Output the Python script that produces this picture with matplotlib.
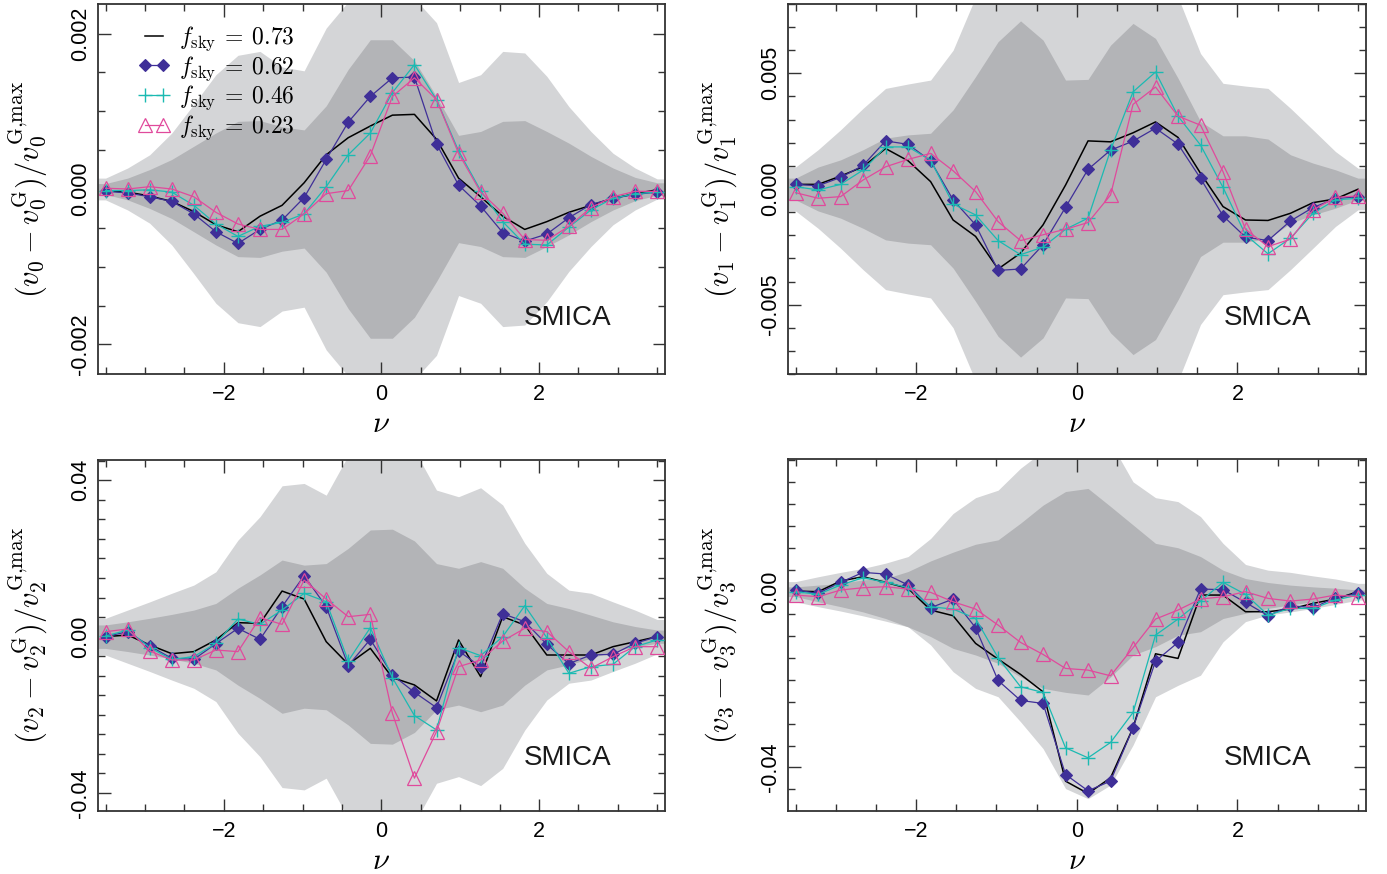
import numpy as np
import matplotlib
matplotlib.use("Agg")
import matplotlib.pyplot as plt
from matplotlib.ticker import MultipleLocator, FuncFormatter

plt.rcParams['mathtext.fontset'] = 'cm'
plt.rcParams['font.family'] = ['Liberation Sans', 'DejaVu Sans']

# ---------------- data ----------------
nu = [-3.50, -3.22, -2.94, -2.66, -2.38, -2.10, -1.82, -1.54, -1.26, -0.98, -0.70, -0.42, -0.14,
      0.14, 0.42, 0.70, 0.98, 1.26, 1.54, 1.82, 2.10, 2.38, 2.66, 2.94, 3.22, 3.50]

labels = [r'$f_{\rm sky}\:=\:0.73$', r'$f_{\rm sky}\:=\:0.62$', r'$f_{\rm sky}\:=\:0.46$', r'$f_{\rm sky}\:=\:0.23$']

# v0
v0_073 = [-0.00002, -0.00004, -0.00009, -0.00016, -0.00029, -0.00046, -0.00055, -0.00035, -0.00021, 0.00008,
          0.00044, 0.00066, 0.00081, 0.00095, 0.00096, 0.00064, 0.00014, -0.00010, -0.00035, -0.00052,
          -0.00042, -0.00030, -0.00021, -0.00012, -0.00006, -0.00001]
v0_062 = [-0.00003, -0.00005, -0.00010, -0.00016, -0.00032, -0.00055, -0.00070, -0.00052, -0.00040, -0.00011,
          0.00038, 0.00086, 0.00119, 0.00143, 0.00144, 0.00058, 0.00005, -0.00022, -0.00056, -0.00067,
          -0.00058, -0.00037, -0.00020, -0.00012, -0.00007, -0.00004]
v0_046 = [-0.00002, -0.00002, -0.00001, -0.00004, -0.00021, -0.00045, -0.00061, -0.00048, -0.00043, -0.00032,
          0.00003, 0.00044, 0.00072, 0.00124, 0.00160, 0.00115, 0.00049, -0.00002, -0.00042, -0.00071,
          -0.00072, -0.00049, -0.00027, -0.00012, -0.00006, -0.00004]
v0_023 = [0.00001, 0.00000, 0.00003, 0.00000, -0.00010, -0.00030, -0.00045, -0.00052, -0.00052, -0.00032,
          -0.00006, -0.00002, 0.00043, 0.00119, 0.00143, 0.00115, 0.00046, -0.00004, -0.00031, -0.00065,
          -0.00066, -0.00048, -0.00024, -0.00010, -0.00003, -0.00003]
v0_sig1 = [0.00007, 0.00014, 0.00025, 0.00038, 0.00055, 0.00072, 0.00087, 0.00088, 0.00080, 0.00076,
           0.00107, 0.00154, 0.00192, 0.00192, 0.00165, 0.00119, 0.00069, 0.00074, 0.00087, 0.00088,
           0.00074, 0.00059, 0.00042, 0.00027, 0.00015, 0.00008]
v0_sig2 = [0.00014, 0.00027, 0.00044, 0.00072, 0.00109, 0.00147, 0.00172, 0.00177, 0.00157, 0.00152,
           0.00207, 0.00241, 0.00266, 0.00266, 0.00245, 0.00214, 0.00137, 0.00147, 0.00177, 0.00175,
           0.00145, 0.00106, 0.00074, 0.00046, 0.00027, 0.00013]

# v1
v1_073 = [0.0002, 0.0002, 0.00056, 0.00096, 0.00175, 0.00122, 0.00032, -0.00134, -0.00205, -0.00346,
          -0.00277, -0.00155, 0.00017, 0.00208, 0.00204, 0.00243, 0.0029, 0.00223, 0.00068, -0.00076,
          -0.00134, -0.00136, -0.00105, -0.00059, -0.00043, -0.00001]
v1_062 = [0.0002, 0.00014, 0.0005, 0.00102, 0.00208, 0.00193, 0.00122, -0.00047, -0.00155, -0.00352,
          -0.00346, -0.00241, -0.00079, 0.00085, 0.00168, 0.00207, 0.00263, 0.00194, 0.00046, -0.00116,
          -0.00208, -0.00223, -0.00138, -0.0008, -0.00042, -0.00033]
v1_046 = [0.0001, -0.00004, 0.0002, 0.00082, 0.00182, 0.00182, 0.00125, -0.00065, -0.00112, -0.00223,
          -0.00284, -0.00251, -0.00174, -0.00126, 0.00168, 0.0042, 0.00506, 0.00315, 0.0019, 0.00007,
          -0.00198, -0.0028, -0.00213, -0.00105, -0.00047, -0.0004]
v1_023 = [-0.00016, -0.0004, -0.00033, 0.00039, 0.00096, 0.00128, 0.00154, 0.00079, -0.00011, -0.00141,
          -0.00223, -0.00198, -0.00174, -0.00145, -0.00026, 0.00366, 0.00441, 0.00315, 0.00276, 0.00075,
          -0.00174, -0.00249, -0.00217, -0.00091, -0.00036, -0.0003]
v1_sig1 = [0.00047, 0.00095, 0.00126, 0.0017, 0.0022, 0.00234, 0.00241, 0.00342, 0.00486, 0.00637,
           0.00727, 0.00644, 0.00471, 0.00474, 0.00622, 0.00716, 0.00651, 0.00479, 0.00292, 0.0023,
           0.0023, 0.00216, 0.00148, 0.00112, 0.00083, 0.00047]
v1_sig2 = [0.00095, 0.0017, 0.00256, 0.00349, 0.00435, 0.00454, 0.00471, 0.006, 0.0083, 0.0092,
           0.0095, 0.0092, 0.009, 0.009, 0.0092, 0.0095, 0.0092, 0.0083, 0.00586, 0.00457,
           0.00445, 0.00435, 0.00349, 0.00256, 0.00162, 0.0009]

# v2
v2_073 = [0.0, 0.00043, -0.00213, -0.00435, -0.00383, -0.00085, 0.00358, 0.00341, 0.01167, 0.00963,
          -0.00128, -0.00707, -0.00298, -0.01048, -0.01235, -0.01644, -0.00085, -0.01022, 0.00511, 0.00298,
          -0.00469, -0.00469, -0.00469, -0.00256, -0.00128, 0.0]
v2_062 = [0.0, 0.00128, -0.00239, -0.00554, -0.0058, -0.00179, 0.00213, -0.00068, 0.00767, 0.0156,
          0.00767, -0.00741, -0.00068, -0.0098, -0.01423, -0.01815, -0.00366, -0.00767, 0.00588, 0.00383,
          -0.00196, -0.0069, -0.00469, -0.00452, -0.0017, 0.0]
v2_046 = [0.00017, 0.0017, -0.00281, -0.0058, -0.00511, -0.0017, 0.00452, 0.00315, 0.00682, 0.01108,
          0.00895, -0.00622, 0.0023, -0.01048, -0.0202, -0.02386, -0.00281, -0.00486, 0.0, 0.00792,
          -0.00026, -0.00937, -0.00767, -0.00707, -0.00256, -0.00085]
v2_023 = [0.00128, 0.00196, -0.00366, -0.00596, -0.00596, -0.00341, -0.00383, 0.00486, 0.00315, 0.01448,
          0.00963, 0.00511, 0.00571, -0.0196, -0.0362, -0.02428, -0.00767, -0.00596, -0.00111, 0.00213,
          0.00128, -0.00383, -0.00809, -0.00511, -0.00256, -0.00256]
v2_sig1 = [0.003, 0.0038, 0.0047, 0.0057, 0.0068, 0.0085, 0.0124, 0.0158, 0.0196, 0.0183,
           0.0187, 0.0226, 0.0273, 0.0275, 0.0245, 0.0187, 0.0175, 0.0192, 0.0175, 0.0124,
           0.0085, 0.0072, 0.0055, 0.0038, 0.0026, 0.0017]
v2_sig2 = [0.0047, 0.0068, 0.0089, 0.0111, 0.0132, 0.0166, 0.0247, 0.0307, 0.0386, 0.0392,
           0.0362, 0.0464, 0.0494, 0.0494, 0.0477, 0.0375, 0.0358, 0.0381, 0.0337, 0.0239,
           0.0162, 0.0119, 0.0111, 0.0089, 0.0068, 0.0044]

# v3
v3_073 = [0.00015, 0.0, 0.00243, 0.00342, 0.00213, 0.00076, -0.00417, -0.00546, -0.01176, -0.01533,
          -0.01882, -0.02277, -0.04311, -0.04592, -0.04235, -0.03097, -0.01412, -0.01518, -0.00076, -0.00076,
          -0.00455, -0.00455, -0.00395, -0.00266, -0.00167, 0.0]
v3_062 = [0.00038, -0.00038, 0.00213, 0.0044, 0.00402, 0.00152, -0.00364, -0.00167, -0.0082, -0.0202,
          -0.02474, -0.02543, -0.0416, -0.0453, -0.0431, -0.031, -0.01579, -0.01154, 0.00061, 0.00046,
          -0.00243, -0.00546, -0.00319, -0.00364, -0.00137, -0.00038]
v3_046 = [0.0, -0.00061, 0.00152, 0.00319, 0.00213, 0.00091, -0.00342, -0.00395, -0.00607, -0.01503,
          -0.02163, -0.02292, -0.03552, -0.0378, -0.03431, -0.02748, -0.00987, -0.00622, -0.00213, 0.00213,
          -0.00061, -0.00531, -0.0038, -0.0038, -0.0019, -0.00076]
v3_023 = [-0.00076, -0.00114, 0.00038, 0.00091, 0.00114, 0.00061, -0.00015, -0.00228, -0.00395, -0.00759,
          -0.01154, -0.01427, -0.01746, -0.01784, -0.01913, -0.01275, -0.00622, -0.00417, -0.00167, -0.00114,
          0.0, -0.00152, -0.00213, -0.00167, -0.00076, -0.00114]
v3_sig1_up = [0.0011, 0.0015, 0.0019, 0.0027, 0.003, 0.0046, 0.007, 0.009, 0.0108, 0.0118,
              0.0156, 0.0197, 0.0228, 0.0235, 0.0194, 0.0152, 0.011, 0.01, 0.008, 0.0049,
              0.003, 0.0021, 0.0015, 0.0011, 0.0008, 0.0004]
v3_sig1_lo = [0.0011, 0.0023, 0.0034, 0.0046, 0.0061, 0.008, 0.0102, 0.0129, 0.0144, 0.0163,
              0.0194, 0.022, 0.0229, 0.0235, 0.0194, 0.0144, 0.0125, 0.0099, 0.0091, 0.0061,
              0.0049, 0.0038, 0.003, 0.0023, 0.0015, 0.0009]
v3_sig2_up = [0.0023, 0.0034, 0.0044, 0.0053, 0.0065, 0.008, 0.0121, 0.0178, 0.0214, 0.0231,
              0.0281, 0.032, 0.034, 0.034, 0.034, 0.025, 0.0214, 0.0205, 0.0171, 0.011,
              0.0062, 0.0049, 0.0044, 0.0036, 0.0029, 0.0019]
v3_sig2_lo = [0.0023, 0.0034, 0.0044, 0.0055, 0.0067, 0.008, 0.0121, 0.0182, 0.022, 0.0239,
              0.0296, 0.0357, 0.0448, 0.0471, 0.044, 0.0349, 0.0239, 0.0213, 0.019, 0.0114,
              0.0068, 0.0053, 0.0046, 0.0038, 0.0029, 0.0019]

panels = [
    dict(series=[v0_073, v0_062, v0_046, v0_023], s1=(v0_sig1, v0_sig1), s2=(v0_sig2, v0_sig2),
         ylim=(-0.00238, 0.00238), major=0.002, minor=0.0005, fmt='%.3f', idx='0'),
    dict(series=[v1_073, v1_062, v1_046, v1_023], s1=(v1_sig1, v1_sig1), s2=(v1_sig2, v1_sig2),
         ylim=(-0.008, 0.008), major=0.005, minor=0.001, fmt='%.3f', idx='1'),
    dict(series=[v2_073, v2_062, v2_046, v2_023], s1=(v2_sig1, v2_sig1), s2=(v2_sig2, v2_sig2),
         ylim=(-0.0446, 0.0452), major=0.04, minor=0.005, fmt='%.2f', idx='2'),
    dict(series=[v3_073, v3_062, v3_046, v3_023], s1=(v3_sig1_up, v3_sig1_lo), s2=(v3_sig2_up, v3_sig2_lo),
         ylim=(-0.0499, 0.0302), major=0.04, minor=0.005, fmt='%.2f', idx='3'),
]

# ---------------- style ----------------
light_gray = '#d4d5d7'
dark_gray = '#b3b4b7'
styles = [
    dict(color='black', lw=1.1, marker=None),
    dict(color='#3f2f98', lw=0.9, marker='D', ms=6.3, mfc='#3f2f98', mec='#3f2f98', mew=0.8),
    dict(color='#1bbab2', lw=0.9, marker='+', ms=10, mew=1.0),
    dict(color='#e04a9c', lw=0.9, marker='^', ms=10, mfc='none', mec='#e04a9c', mew=0.9),
]

W, H = 1387, 874
fig = plt.figure(figsize=(W / 100, H / 100), dpi=100)
rects = [
    (97.7, 4, 665, 374),
    (787.6, 4, 1366, 374),
    (97.7, 460, 665, 811),
    (787.6, 459, 1366, 811),
]
xlim = (-3.6, 3.6)
x = np.array(nu)
xe = np.r_[xlim[0], x, xlim[1]]

def ext(a):
    a = np.asarray(a)
    return np.r_[a[0], a, a[-1]]

for k, (p, r) in enumerate(zip(panels, rects)):
    l, t, rr, b = r
    ax = fig.add_axes([l / W, 1 - b / H, (rr - l) / W, (b - t) / H])
    ax.fill_between(xe, -ext(p['s2'][1]), ext(p['s2'][0]), color=light_gray, lw=0, zorder=1)
    ax.fill_between(xe, -ext(p['s1'][1]), ext(p['s1'][0]), color=dark_gray, lw=0, zorder=2)
    for j, (y, st) in enumerate(zip(p['series'], styles)):
        ax.plot(x, y, label=labels[j], zorder=3 + j, **st)
    ax.set_xlim(*xlim)
    ax.set_ylim(*p['ylim'])
    ax.xaxis.set_major_locator(MultipleLocator(2))
    ax.xaxis.set_minor_locator(MultipleLocator(0.5))
    ax.yaxis.set_major_locator(MultipleLocator(p['major']))
    ax.yaxis.set_minor_locator(MultipleLocator(p['minor']))
    fmt = p['fmt']
    ax.yaxis.set_major_formatter(FuncFormatter(
        lambda v, pos, fmt=fmt: (fmt % v) if abs(v) > 1e-12 else (fmt % 0.0)))
    ax.xaxis.set_major_formatter(FuncFormatter(
        lambda v, pos: ('\u2212%d' % abs(round(v))) if v < -1e-9 else '%d' % round(v)))
    ax.tick_params(which='both', direction='in', top=True, right=True, color='#333333', width=1.0)
    ax.tick_params(which='major', length=9, labelsize=15.5)
    ax.tick_params(which='minor', length=5)
    ax.tick_params(axis='y', which='major', pad=5, labelrotation=90)
    ax.tick_params(axis='x', which='major', pad=7)
    for lab in ax.get_yticklabels():
        lab.set_va('center')
    for s in ax.spines.values():
        s.set_linewidth(1.3)
        s.set_color('#333333')
    ax.set_xlabel(r'$\nu$', fontsize=22, labelpad=3)
    i = p['idx']
    ax.set_ylabel(r'$(v_%s - v_%s^{\rm G})/v_%s^{\rm G{,}max}$' % (i, i, i), fontsize=22, labelpad=15)
    ax.text(0.829, 0.151, 'SMICA', transform=ax.transAxes, ha='center', va='center',
            fontsize=20, color='#1a1a1a')
    if k == 0:
        leg = ax.legend(loc='upper left', bbox_to_anchor=(0.071, 0.945), frameon=False,
                        fontsize=17, numpoints=2, handlelength=1.35, handletextpad=0.4,
                        labelspacing=0.05, borderaxespad=0.0, borderpad=0.0)

fig.savefig('out.png', dpi=100)
